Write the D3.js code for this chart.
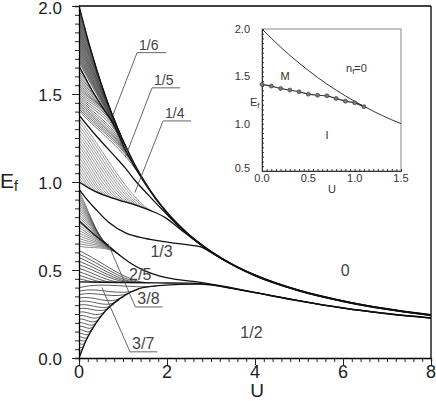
<!DOCTYPE html>
<html><head><meta charset="utf-8">
<script src="https://cdn.jsdelivr.net/npm/d3@7/dist/d3.min.js"></script>
<style>
html,body{margin:0;padding:0;background:#fff;}
svg{display:block;font-family:"Liberation Sans",Arial,sans-serif;}
</style></head>
<body>
<svg id="c" width="436" height="401"></svg>
<script>
// ---------- data ----------
const xTicks = [0, 2, 4, 6, 8];
const yTicks = [0.0, 0.5, 1.0, 1.5, 2.0];
// phase boundaries (U, E_f)
const tU = [0,0.25,0.5,0.75,1,1.25,1.5,1.75,2,2.5,3,3.5,4,5,6,7,8];           // 0 | 1/6
const tE = [2.0,1.766,1.562,1.386,1.236,1.108,1.0,0.907,0.828,0.702,0.606,0.531,0.472,0.385,0.325,0.280,0.246];
const aU = [0,0.3,0.6,0.77,1.05,1.5,2.0,2.5,2.8,3,3.5,4,5,6,7,8];              // 1/6 | 1/5
const aE = [1.66,1.52,1.40,1.335,1.185,0.99,0.822,0.699,0.641,0.604,0.530,0.471,0.384,0.324,0.279,0.245];
const bU = [0,0.4,0.8,1.05,1.27,1.6,2.0,2.5,2.8,3,3.5,4,5,6,7,8];              // 1/5 | 1/4
const bE = [1.38,1.26,1.15,1.08,1.01,0.92,0.815,0.695,0.639,0.603,0.529,0.470,0.383,0.323,0.278,0.244];
const xU = [0,0.3,0.68,1.0,1.27,1.6,1.98,2.3,2.6,2.8,3,3.5,4,5,6,7,8];         // 1/4 | 2/7
const xE = [1.0,0.955,0.915,0.89,0.87,0.84,0.795,0.732,0.675,0.636,0.601,0.528,0.469,0.382,0.322,0.277,0.243];
const dU = [0,0.1,0.4,0.68,1.07,1.5,1.98,2.4,2.75,3.0,3.3,3.6,4,5,6,7,8];      // 2/7 | 1/3
const dE = [0.96,0.925,0.84,0.77,0.71,0.68,0.66,0.645,0.633,0.60,0.556,0.514,0.466,0.381,0.321,0.276,0.242];
const eU = [0,0.35,0.7,1.0,1.23,1.5,1.84,2.2,2.6,3.0,3.4,4,5,6,7,8];           // 1/3 | 3/8 | 2/5
const eE = [0.78,0.70,0.63,0.57,0.53,0.495,0.465,0.447,0.435,0.42,0.402,0.373,0.326,0.285,0.253,0.228];
const hU = [0,1,2,2.5,2.75,3.0,3.5,4,5,6,7,8];                                   // 2/5 | 3/7 | 1/2
const hE = [0.432,0.429,0.426,0.425,0.423,0.417,0.395,0.372,0.325,0.284,0.252,0.227];
const lU = [0,0.16,0.39,0.61,1.07,1.45,1.9,2.3,2.75,3.0,3.5,4,5,6,7,8];        // lower 1/2 boundary
const lE = [0,0.10,0.20,0.27,0.36,0.40,0.413,0.418,0.42,0.415,0.394,0.371,0.324,0.283,0.251,0.226];

// fans of short-lived phases: E_f where each line leaves U = 0, and U where it joins a boundary
const fanTStart = [1.99,1.98,1.97,1.96,1.95,1.94,1.93,1.92,1.91,1.90,1.89,1.88,1.87,1.86,1.85,1.84,1.83,1.82,1.81,1.80,1.79,1.78,1.77,1.76,1.75,1.74,1.73,1.72,1.71,1.70,1.69,1.68];
const fanTMerge = [0.06,0.10,0.14,0.18,0.21,0.25,0.29,0.33,0.37,0.40,0.44,0.48,0.52,0.56,0.59,0.63,0.67,0.71,0.75,0.78,0.82,0.86,0.90,0.94,0.97,1.01,1.05,1.09,1.13,1.16,1.20,1.24];
const fanAStart = [1.645,1.635,1.625,1.615,1.605,1.595,1.585,1.575,1.565,1.555,1.545,1.535,1.525,1.515,1.505,1.495,1.485,1.475,1.465,1.455,1.445,1.435,1.425,1.415,1.405];
const fanAMerge = [0.07,0.13,0.19,0.24,0.30,0.36,0.42,0.47,0.53,0.59,0.65,0.71,0.76,0.82,0.88,0.94,0.99,1.05,1.11,1.17,1.22,1.28,1.34,1.40,1.46];
const fanXStart = [1.36,1.34,1.32,1.30,1.28,1.26,1.24,1.22,1.20,1.18,1.16,1.14,1.12,1.10,1.08,1.06,1.04,1.02];
const fanXMerge = [1.70,1.61,1.52,1.43,1.34,1.25,1.16,1.07,0.98,0.88,0.79,0.70,0.61,0.52,0.43,0.34,0.25,0.16];
const fanEStart = [0.95,0.935,0.92,0.905,0.89,0.875,0.86,0.845,0.83,0.815,0.80,0.785,0.77,0.755,0.74,0.725,0.71,0.695,0.68,0.665,0.65,0.635];
const fanEMerge = [0.62,0.635,0.65,0.665,0.68,0.695,0.71,0.725,0.74,0.755,0.77,0.785,0.80,0.815,0.83,0.845,0.86,0.875,0.89,0.905,0.92,0.935];
const fanHStart = [0.61,0.59,0.57,0.55,0.53,0.51,0.49,0.47,0.45];
const fanHMerge = [1.60,1.50,1.40,1.30,1.20,1.00,0.80,0.60,0.40];
const fanLStart = [0.40,0.38,0.36,0.34,0.32,0.30,0.28,0.26,0.24,0.22,0.20,0.18,0.16,0.14,0.12,0.10,0.08,0.06,0.04,0.02];
const fanLMerge = [1.75,1.36,1.17,1.02,0.92,0.81,0.71,0.61,0.55,0.48,0.42,0.37,0.32,0.28,0.23,0.19,0.15,0.12,0.09,0.06];

// labels with leader lines: text, leader (U,E) start -> end, underline end U
const ptrLabels = [
  {t:"1/6", lx:[1.32,0.77], ly:[1.735,1.38], ux:1.98, size:14},
  {t:"1/5", lx:[1.66,1.05], ly:[1.535,1.14], ux:2.3, size:14},
  {t:"1/4", lx:[1.91,1.27], ly:[1.347,0.94], ux:2.55, size:14},
  {t:"3/8", lx:[1.28,0.66], ly:[0.29,0.65], ux:1.9, size:16},
  {t:"3/7", lx:[1.16,0.52], ly:[0.035,0.40], ux:1.78, size:16},
];
const freeLabels = [["1/3",1.875,0.61],["2/5",1.39,0.475],["0",6.05,0.50],["1/2",3.92,0.148]];
// inset data
const inTicksX = [0.0, 0.5, 1.0, 1.5];
const inTicksY = [0.5, 1.0, 1.5, 2.0];
const inCurveU = [0,0.1,0.2,0.3,0.4,0.5,0.6,0.7,0.8,0.9,1.0,1.1,1.2,1.3,1.4,1.5];
const inCurveE = [2.0,1.902,1.810,1.722,1.640,1.562,1.488,1.419,1.354,1.293,1.236,1.183,1.132,1.085,1.041,1.0];
const inDotU = [0,0.1,0.2,0.3,0.4,0.5,0.6,0.7,0.8,0.9,1.0,1.1];
const inDotE = [1.415,1.397,1.372,1.355,1.337,1.312,1.30,1.294,1.266,1.238,1.22,1.18];

// ---------- drawing ----------
const svg = d3.select("#c");
const x = d3.scaleLinear().domain([0,8]).range([79,431]);
const y = d3.scaleLinear().domain([0,2]).range([358,6]);

svg.append("defs").append("clipPath").attr("id","clip")
  .append("rect").attr("x",79).attr("y",6).attr("width",352).attr("height",352);
const g = svg.append("g").attr("clip-path","url(#clip)");
const line = d3.line().x(d=>x(d[0])).y(d=>y(d[1])).curve(d3.curveMonotoneX);

function drawFan(starts, merges, U, E, mode, color, w){
  const s = d3.scaleLinear().domain(U).range(E).clamp(true);
  starts.forEach((e0,i)=>{
    const um = merges[i], em = s(um);
    const a = Math.max(0,um-0.1), b = um+0.1;
    const s1 = (s(b)-s(a))/(b-a);
    const s0 = mode==="flat" ? 0.06 : (em-e0)/um;
    const p = d3.path();
    p.moveTo(x(0),y(e0));
    p.bezierCurveTo(x(um/3),y(e0+s0*um/3),x(2*um/3),y(em-s1*um/3),x(um),y(em));
    g.append("path").attr("d",p.toString()).attr("fill","none")
      .attr("stroke",color).attr("stroke-width",w);
  });
}
drawFan(fanTStart,fanTMerge,tU,tE,"chord","#222",0.6);
drawFan(fanAStart,fanAMerge,aU,aE,"chord","#222",0.6);
drawFan(fanXStart,fanXMerge,xU,xE,"chord","#555",0.6);
drawFan(fanEStart,fanEMerge,eU,eE,"chord","#444",0.6);
drawFan(fanHStart,fanHMerge,hU,hE,"chord","#333",0.8);
drawFan(fanLStart,fanLMerge,lU,lE,"flat","#333",0.8);

[[tU,tE],[aU,aE],[bU,bE],[xU,xE],[dU,dE],[eU,eE],[hU,hE],[lU,lE]].forEach(([U,E])=>{
  g.append("path").attr("d",line(U.map((u,i)=>[u,E[i]])))
   .attr("fill","none").attr("stroke","#111").attr("stroke-width",1.3);
});

// axes
const ax = svg.append("g").attr("transform","translate(0,358)");
ax.call(d3.axisBottom(x).tickValues(d3.range(0,8.01,0.2)).tickSize(4).tickFormat(""));
ax.selectAll(".tick").filter(d=>xTicks.includes(Math.round(d*10)/10)).select("line").attr("y2",7);
xTicks.forEach(t=>svg.append("text").attr("x",x(t)).attr("y",378).attr("text-anchor","middle")
  .attr("font-size",18).attr("fill","#222").text(t));
const ay = svg.append("g").attr("transform","translate(79,0)");
ay.call(d3.axisLeft(y).tickValues(d3.range(0,2.001,0.05)).tickSize(4).tickFormat(""));
ay.selectAll(".tick").filter(d=>Math.abs(d*2-Math.round(d*2))<1e-6).select("line").attr("x2",-7);
yTicks.forEach(t=>svg.append("text").attr("x",62).attr("y",y(t)+6.5+(t===2?1:0)).attr("text-anchor","end")
  .attr("font-size",17).attr("fill","#222").text(t.toFixed(1)));
svg.selectAll(".domain").attr("stroke","#000").attr("stroke-width",1.3);
svg.selectAll(".tick line").attr("stroke","#222");
svg.append("line").attr("x1",79).attr("x2",431).attr("y1",6).attr("y2",6).attr("stroke","#000").attr("stroke-width",1.3);
svg.append("line").attr("x1",431).attr("x2",431).attr("y1",6).attr("y2",358).attr("stroke","#000").attr("stroke-width",1.3);

// axis titles
svg.append("text").attr("x",257).attr("y",397).attr("text-anchor","middle").attr("font-size",19).attr("fill","#222").text("U");
const ef = svg.append("text").attr("x",0).attr("y",188).attr("font-size",21).attr("fill","#222");
ef.append("tspan").text("E");
ef.append("tspan").attr("font-size",14).attr("dy",3).text("f");

// labels with leader lines
ptrLabels.forEach(r=>{
  svg.append("line").attr("x1",x(r.lx[0])).attr("y1",y(r.ly[0])).attr("x2",x(r.lx[1])).attr("y2",y(r.ly[1])).attr("stroke","#555").attr("stroke-width",0.9);
  svg.append("line").attr("x1",x(r.lx[0])).attr("y1",y(r.ly[0])).attr("x2",x(r.ux)).attr("y2",y(r.ly[0])).attr("stroke","#555").attr("stroke-width",0.9);
  svg.append("text").attr("x",x(r.lx[0])+2).attr("y",y(r.ly[0])-3).attr("font-size",r.size).attr("fill","#444").text(r.t);
});
freeLabels.forEach(([t,u,e])=>{
  svg.append("text").attr("x",x(u)).attr("y",y(e)+6).attr("text-anchor","middle").attr("font-size",16).attr("fill","#444").text(t);
});

// ---------- inset ----------
const ix = d3.scaleLinear().domain([0,1.5]).range([262,401]);
const iy = d3.scaleLinear().domain([0.5,2.0]).range([171,29]);
svg.append("rect").attr("x",262).attr("y",29).attr("width",139).attr("height",142).attr("fill","none").attr("stroke","#888").attr("stroke-width",1);
const iax = svg.append("g").attr("transform","translate(0,171)");
iax.call(d3.axisTop(ix).tickValues(d3.range(0,1.501,0.05)).tickSize(2).tickFormat(""));
const iay = svg.append("g").attr("transform","translate(262,0)");
iay.call(d3.axisRight(iy).tickValues(d3.range(0.5,2.001,0.05)).tickSize(2).tickFormat(""));
[iax,iay].forEach(a=>{a.select(".domain").attr("stroke","#333").attr("stroke-width",1); a.selectAll(".tick line").attr("stroke","#333");});
inTicksX.forEach(t=>svg.append("text").attr("x",ix(t)).attr("y",182).attr("text-anchor","middle").attr("font-size",11).attr("fill","#333").text(t.toFixed(1)));
inTicksY.forEach(t=>svg.append("text").attr("x",250).attr("y",iy(t)+4-(t===0.5?3:0)).attr("text-anchor","end").attr("font-size",11).attr("fill","#333").text(t.toFixed(1)));
svg.append("text").attr("x",332).attr("y",193).attr("text-anchor","middle").attr("font-size",11).attr("fill","#333").text("U");
const ief = svg.append("text").attr("x",250).attr("y",106).attr("font-size",11).attr("fill","#333");
ief.append("tspan").text("E"); ief.append("tspan").attr("font-size",8).attr("dy",2).text("f");
const il = d3.line().x(d=>ix(d[0])).y(d=>iy(d[1])).curve(d3.curveMonotoneX);
svg.append("path").attr("d",il(inCurveU.map((u,i)=>[u,inCurveE[i]]))).attr("fill","none").attr("stroke","#333").attr("stroke-width",1);
svg.append("path").attr("d",il(inDotU.map((u,i)=>[u,inDotE[i]]))).attr("fill","none").attr("stroke","#333").attr("stroke-width",1.2);
svg.selectAll(".idot").data(inDotU).enter().append("circle").attr("cx",d=>ix(d)).attr("cy",(d,i)=>iy(inDotE[i])).attr("r",2).attr("fill","#777").attr("stroke","#333").attr("stroke-width",0.6);
svg.append("text").attr("x",285).attr("y",80).attr("text-anchor","middle").attr("font-size",11).attr("fill","#333").text("M");
svg.append("text").attr("x",327).attr("y",139).attr("text-anchor","middle").attr("font-size",11).attr("fill","#333").text("I");
const nf = svg.append("text").attr("x",346).attr("y",72).attr("font-size",11).attr("fill","#333");
nf.append("tspan").text("n"); nf.append("tspan").attr("font-size",8).attr("dy",2).text("f"); nf.append("tspan").attr("dy",-2).text("=0");
</script>
</body></html>
